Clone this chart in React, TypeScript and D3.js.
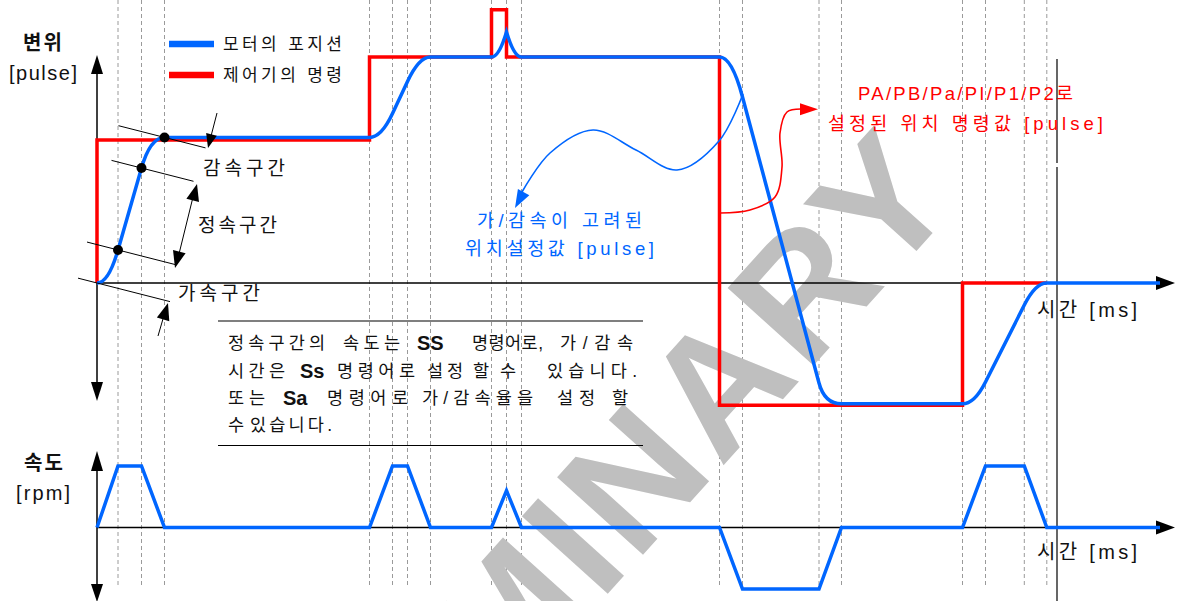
import React from "react";
import * as d3 from "d3";

const W = 1179;
const H = 601;
const BLUE = "#0066ff";
const RED = "#ff0000";
const FONT = "'Liberation Sans', 'Noto Sans CJK KR', sans-serif";

// times where the motion changes phase (dashed guides)
const guideTimes = [21, 44.5, 67.5, 272.5, 295.5, 310.5, 333.5, 394.5, 409.5, 424.5, 622.5, 645.5, 722, 744.5, 865.5, 888.5, 927.3, 949.8];

// motor position (blue), knot values + segment type between knots
const motorTimes = [0, ...guideTimes, 1063];
const motorPos = [0, 231, 804, 1018, 1018, 1185, 1409, 1580, 1580, 1755, 1580, 1580, 1301, -699, -845, -845, -692, -154, 0, 0];
const motorKind = ["acc", "lin", "dec", "lin", "acc", "lin", "dec", "lin", "acc", "dec", "lin", "acc", "lin", "dec", "lin", "acc", "lin", "dec", "lin"];

// controller command (red), step after
const cmdTimes = [0, 0, 272.5, 394.5, 409.5, 622.5, 865.5, 949.8];
const cmdPos = [0, 1000, 1580, 1910, 1580, -855, 0, 0];

// speed profile [rpm]
const speedTimes = motorTimes;
const speedVals = [0, 1000, 1000, 0, 0, 1000, 1000, 0, 0, 600, 0, 0, -1000, -1000, 0, 0, 1000, 1000, 0, 0];

// note box words: [text, left, right(optional), bold]
const noteLines = [
  { y: 343, words: [["정속구간의", 228, 325], ["속도는", 343, 400], ["SS", 417, null, 1], ["명령어로,", 472, 543], ["가/감속", 560, 633]] },
  { y: 370.5, words: [["시간은", 228, 285], ["Ss", 300, null, 1], ["명령어로", 337, 415], ["설정", 427, 463], ["할", 473], ["수", 500], ["있습니다.", 547, 637]] },
  { y: 397.5, words: [["또는", 228, 265], ["Sa", 283, null, 1], ["명령어로", 327, 408], ["가/감속율을", 422, 533], ["설정", 557, 595], ["할", 612]] },
  { y: 424.5, words: [["수", 228], ["있습니다.", 250, 332]] },
];

const x = d3.scaleLinear().domain([0, 1078]).range([97, 1175]);
const yPos = d3.scaleLinear().domain([0, 1000]).range([283, 140]);
const ySpd = d3.scaleLinear().domain([-1000, 1000]).range([589, 466]);

function motorPath() {
  const pts = motorTimes.map((t, i) => [x(t), yPos(motorPos[i])]);
  const p = d3.path();
  p.moveTo(pts[0][0], pts[0][1]);
  for (let i = 0; i < motorKind.length; i++) {
    const [x0, y0] = pts[i];
    const [x1, y1] = pts[i + 1];
    const k = motorKind[i];
    if (k === "lin") {
      p.lineTo(x1, y1);
    } else if (k === "acc") {
      let cx = (x0 + x1) / 2;
      if (motorKind[i + 1] === "lin") {
        const [x2, y2] = pts[i + 2];
        const m = (y2 - y1) / (x2 - x1);
        if (m !== 0) cx = x1 - (y1 - y0) / m;
      }
      cx = Math.max(x0, Math.min(x1, cx));
      p.quadraticCurveTo(cx, y0, x1, y1);
    } else {
      let cx = (x0 + x1) / 2;
      if (i > 0 && motorKind[i - 1] === "lin") {
        const [xm, ym] = pts[i - 1];
        const m = (y0 - ym) / (x0 - xm);
        if (m !== 0) cx = x0 + (y1 - y0) / m;
      }
      cx = Math.max(x0, Math.min(x1, cx));
      p.quadraticCurveTo(cx, y1, x1, y1);
    }
  }
  return p.toString();
}

// filled triangle arrow head with tip at (tx,ty) pointing from (fx,fy)
function head(fx: number, fy: number, tx: number, ty: number, len = 16, hw = 6) {
  const a = Math.atan2(ty - fy, tx - fx);
  const bx = tx - len * Math.cos(a);
  const by = ty - len * Math.sin(a);
  const px = -Math.sin(a) * hw;
  const py = Math.cos(a) * hw;
  return `M${tx},${ty}L${bx + px},${by + py}L${bx - px},${by - py}Z`;
}

function Txt(props: any) {
  const { x0, x1, y, size = 17, fill = "#111", weight = "normal", children } = props;
  return (
    <text
      x={x0}
      y={y}
      fontSize={size}
      fill={fill}
      fontWeight={weight}
      dominantBaseline="central"
      textLength={x1 != null ? x1 - x0 : undefined}
      lengthAdjust={x1 != null ? "spacing" : undefined}
    >
      {children}
    </text>
  );
}

export default function App() {
  const cmdLine = d3
    .line<number>()
    .x((_, i) => x(cmdTimes[i]))
    .y((d) => yPos(d))
    .curve(d3.curveStepAfter);
  const spdLine = d3
    .line<number>()
    .x((_, i) => x(speedTimes[i]))
    .y((d) => ySpd(d));

  const curvy = d3.line().curve(d3.curveCatmullRom.alpha(0.5));
  const bluePts: [number, number][] = [[743, 94], [719, 141], [677, 170], [636, 150], [593, 130], [550, 153], [522, 192]];
  const redPts: [number, number][] = [[720, 213], [750, 210], [775, 197], [782, 167], [780, 133], [787, 112], [802, 109]];

  // helper lines through the dots (slanted markers)
  const knotPt = (i: number) => [x(motorTimes[i]), yPos(motorPos[i])];
  const markers = [
    { i: 3, a: 46, b: 41 },
    { i: 2, a: 30, b: 52 },
    { i: 1, a: 31, b: 58 },
    { i: 0, a: 19, b: 73 },
  ];
  const slope = 0.255;

  const y0 = yPos(0);
  const s0 = ySpd(0);

  return (
    <svg width={W} height={H} style={{ position: "absolute", left: 0, top: 0, background: "#fff" }} fontFamily={FONT}>
      <rect width={W} height={H} fill="#fff" />
      {/* dashed guides */}
      {guideTimes.map((t) => (
        <line key={t} x1={x(t)} x2={x(t)} y1={0} y2={588} stroke="#9a9a9a" strokeWidth={1} strokeDasharray="4,3" />
      ))}

      {/* watermark */}
      <text
        transform="translate(966,196) rotate(-48)"
        textAnchor="end"
        fontSize={168}
        fontWeight="bold"
        letterSpacing={6}
        fill="#bfbfbf"
        fontFamily="'Liberation Sans', sans-serif"
      >
        PRELIMINARY
      </text>

      {/* axes and frame lines */}
      <g stroke="#000" strokeWidth={1.5}>
        <line x1={97} x2={97} y1={70} y2={386} />
        <line x1={97} x2={1160} y1={y0} y2={y0} />
        <line x1={97} x2={97} y1={468} y2={590} />
        <line x1={97} x2={1160} y1={s0} y2={s0} />
        <line x1={1057} x2={1057} y1={59} y2={163} strokeWidth={1.2} />
        <line x1={1057} x2={1057} y1={167} y2={601} strokeWidth={1.2} />
        <line x1={218} x2={643} y1={321} y2={321} strokeWidth={1.2} />
        <line x1={218} x2={643} y1={445.5} y2={445.5} strokeWidth={1.2} />
      </g>
      <g fill="#000">
        <path d={head(97, 100, 97, 55, 19, 6)} />
        <path d={head(97, 300, 97, 401, 19, 6)} />
        <path d={head(1000, y0, 1175, y0, 19, 7)} />
        <path d={head(97, 500, 97, 451, 20, 6)} />
        <path d={head(97, 560, 97, 602, 18, 6)} />
        <path d={head(1000, s0, 1175, s0, 19, 7)} />
      </g>

      {/* command & motor position */}
      <path d={cmdLine(cmdPos) || ""} fill="none" stroke={RED} strokeWidth={3.5} strokeLinejoin="miter" />
      <path d={motorPath()} fill="none" stroke={BLUE} strokeWidth={3.5} />

      {/* speed */}
      <path d={spdLine(speedVals) || ""} fill="none" stroke={BLUE} strokeWidth={3.5} strokeLinejoin="miter" />

      {/* slanted marker lines and dots */}
      <g stroke="#000" strokeWidth={1}>
        {markers.map((m) => {
          const [px, py] = knotPt(m.i);
          return <line key={m.i} x1={px - m.a} y1={py - m.a * slope} x2={px + m.b} y2={py + m.b * slope} />;
        })}
        <line x1={217} y1={113} x2={210} y2={140} />
        <line x1={194} y1={193} x2={178} y2={258} />
        <line x1={158} y1={336} x2={165} y2={312} />
      </g>
      <g fill="#000">
        <path d={head(217, 113, 208, 148, 14, 5.5)} />
        <path d={head(175, 268, 197, 184, 17, 6.5)} />
        <path d={head(197, 184, 175, 268, 17, 6.5)} />
        <path d={head(158, 336, 168, 303, 17, 6.5)} />
        {[1, 2, 3].map((i) => {
          const [px, py] = knotPt(i);
          return <circle key={i} cx={px} cy={py} r={5} />;
        })}
      </g>

      {/* curved callout arrows */}
      <path d={curvy(bluePts) || ""} fill="none" stroke={BLUE} strokeWidth={1.6} />
      <path d={head(527, 186, 515, 208, 18, 6.5)} fill={BLUE} />
      <path d={curvy(redPts) || ""} fill="none" stroke={RED} strokeWidth={1.6} />
      <path d={head(795, 109.3, 818, 109.3, 18, 6)} fill={RED} />

      {/* legend */}
      <line x1={169} x2={214} y1={44} y2={44} stroke={BLUE} strokeWidth={6.5} />
      <line x1={169} x2={214} y1={75} y2={75} stroke={RED} strokeWidth={6.5} />
      <Txt x0={223} x1={342} y={44} size={17}>모터의 포지션</Txt>
      <Txt x0={223} x1={342} y={75} size={17}>제어기의 명령</Txt>

      {/* axis titles */}
      <Txt x0={23} x1={62} y={43} size={20} weight="bold">변위</Txt>
      <Txt x0={9} x1={77} y={72.5} size={20}>[pulse]</Txt>
      <Txt x0={24} x1={63} y={463} size={20} weight="bold">속도</Txt>
      <Txt x0={16} x1={70} y={492.5} size={20}>[rpm]</Txt>
      <Txt x0={1037} x1={1137} y={310} size={20}>시간 [ms]</Txt>
      <Txt x0={1037} x1={1137} y={552} size={20}>시간 [ms]</Txt>

      {/* section labels */}
      <Txt x0={203} x1={285} y={168} size={19}>감속구간</Txt>
      <Txt x0={198} x1={277} y={225} size={19}>정속구간</Txt>
      <Txt x0={178} x1={260} y={293.5} size={19}>가속구간</Txt>

      {/* callout texts */}
      <Txt x0={477} x1={642} y={220} size={18.5} fill={BLUE}>가/감속이 고려된</Txt>
      <Txt x0={465} x1={654} y={248.5} size={18.5} fill={BLUE}>위치설정값 [pulse]</Txt>
      <Txt x0={858} x1={1073} y={93.5} size={18.5} fill={RED}>PA/PB/Pa/PI/P1/P2로</Txt>
      <Txt x0={828} x1={1103} y={123.5} size={18.5} fill={RED}>설정된 위치 명령값 [pulse]</Txt>

      {/* note box, word by word */}
      {noteLines.map((ln) =>
        ln.words.map((w: any) => (
          <Txt
            key={`${ln.y}-${w[1]}`}
            x0={w[1]}
            x1={w[2] ?? undefined}
            y={ln.y}
            size={w[3] ? 20 : 17.5}
            weight={w[3] ? "bold" : "normal"}
          >
            {w[0]}
          </Txt>
        ))
      )}
    </svg>
  );
}
